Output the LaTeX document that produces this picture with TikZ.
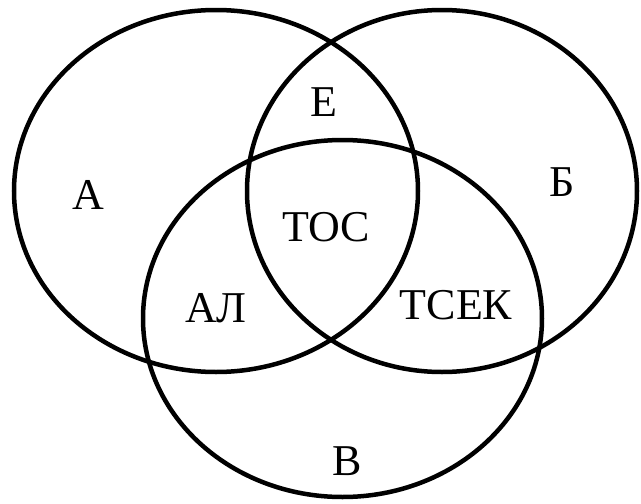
\documentclass[tikz,border=0pt]{standalone}
\usepackage{fontspec}
\setmainfont{Liberation Serif}
\begin{document}
\begin{tikzpicture}[x=1pt,y=-1pt,
  setline/.style={line width=4.5pt,black},
  lbl/.style={font=\fontsize{44}{48}\selectfont,inner sep=0pt,anchor=center}]
\useasboundingbox (0,0) rectangle (641,504);
\draw[setline] (216,191) ellipse [x radius=202, y radius=181];
\draw[setline] (442,191) ellipse [x radius=195, y radius=181];
\draw[setline] (342.5,318.5) ellipse [x radius=199.5, y radius=178.5];
\node[lbl] (a) at (88,195) {А};
\node[lbl] (b) at (562,182) {Б};
\node[lbl] (e) at (324,102) {Е};
\node[lbl] (toc) at (326,227) {ТОС};
\node[lbl] (al) at (216,308) {АЛ};
\node[lbl] (tsek) at (456,305) {ТСЕК};
\node[lbl] (v) at (347,461) {В};
\end{tikzpicture}
\end{document}
